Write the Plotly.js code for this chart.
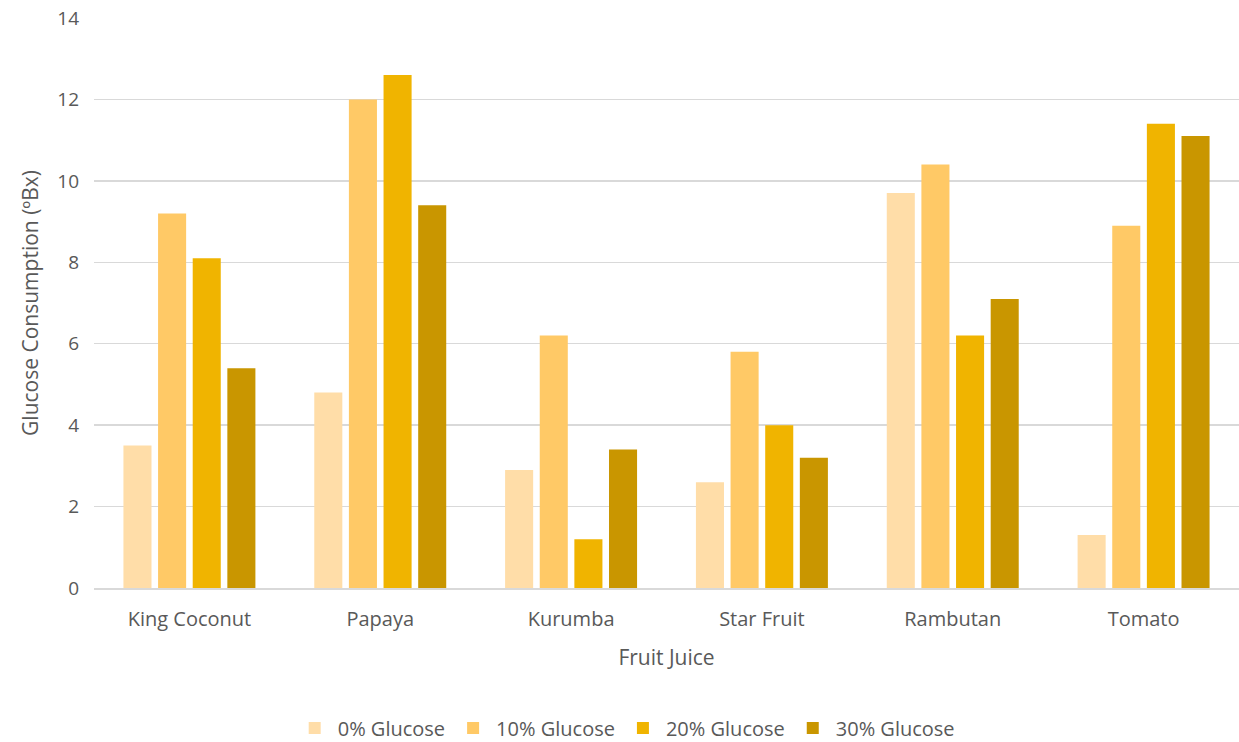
<!DOCTYPE html>
<html>
<head>
<meta charset="utf-8">
<script src="https://cdn.plot.ly/plotly-3.0.1.min.js"></script>
<style>html,body{margin:0;padding:0;background:#fff;}#chart{width:1239px;height:742px;}</style>
</head>
<body>
<div id="chart"></div>
<script>
const categories = ["King Coconut", "Papaya", "Kurumba", "Star Fruit", "Rambutan", "Tomato"];
const seriesNames = ["0% Glucose", "10% Glucose", "20% Glucose", "30% Glucose"];
const glucose0 = [3.5, 4.8, 2.9, 2.6, 9.7, 1.3];
const glucose10 = [9.2, 12.0, 6.2, 5.8, 10.4, 8.9];
const glucose20 = [8.1, 12.6, 1.2, 4.0, 6.2, 11.4];
const glucose30 = [5.4, 9.4, 3.4, 3.2, 7.1, 11.1];
const colors = ["#FFDDA8", "#FFC966", "#F0B400", "#C99600"];
const yTicks = [0, 2, 4, 6, 8, 10, 12, 14];

const seriesValues = [glucose0, glucose10, glucose20, glucose30];
const font = "Open Sans, Noto Sans, sans-serif";
const traces = seriesValues.map((vals, i) => ({
  type: "bar",
  name: seriesNames[i],
  x: categories,
  y: vals,
  marker: {color: colors[i]},
  hoverinfo: "x+y+name"
}));

const layout = {
  width: 1239,
  height: 742,
  margin: {l: 94, r: 0, t: 18, b: 154},
  paper_bgcolor: "#ffffff",
  plot_bgcolor: "#ffffff",
  barmode: "group",
  bargap: 0.274,
  bargroupgap: 0.19,
  font: {family: font, color: "#595959", size: 18},
  xaxis: {
    type: "category",
    automargin: false,
    showgrid: false,
    showline: true,
    linecolor: "#D9D9D9",
    linewidth: 1.5,
    ticks: "",
    ticklabelstandoff: 12,
    tickfont: {size: 20, color: "#595959"},
    title: {text: "Fruit Juice", font: {size: 21, color: "#595959"}, standoff: 20}
  },
  yaxis: {
    automargin: false,
    range: [0, 14],
    tickvals: yTicks,
    ticktext: yTicks.map(String),
    showgrid: true,
    gridcolor: "#D9D9D9",
    gridwidth: 1.5,
    zeroline: false,
    showline: false,
    ticks: "",
    ticklabelstandoff: 14,
    tickfont: {size: 19, color: "#595959"},
    title: {text: "Glucose Consumption (ºBx)", font: {size: 21, color: "#595959"}, standoff: 12}
  },
  legend: {
    orientation: "h",
    xref: "container",
    yref: "container",
    x: 0.505,
    xanchor: "center",
    y: 0.019,
    yanchor: "middle",
    font: {size: 20, color: "#595959"},
    itemwidth: 36,
    traceorder: "normal"
  },
  showlegend: true
};

Plotly.newPlot("chart", traces, layout, {displayModeBar: false, staticPlot: true});
</script>
</body>
</html>
